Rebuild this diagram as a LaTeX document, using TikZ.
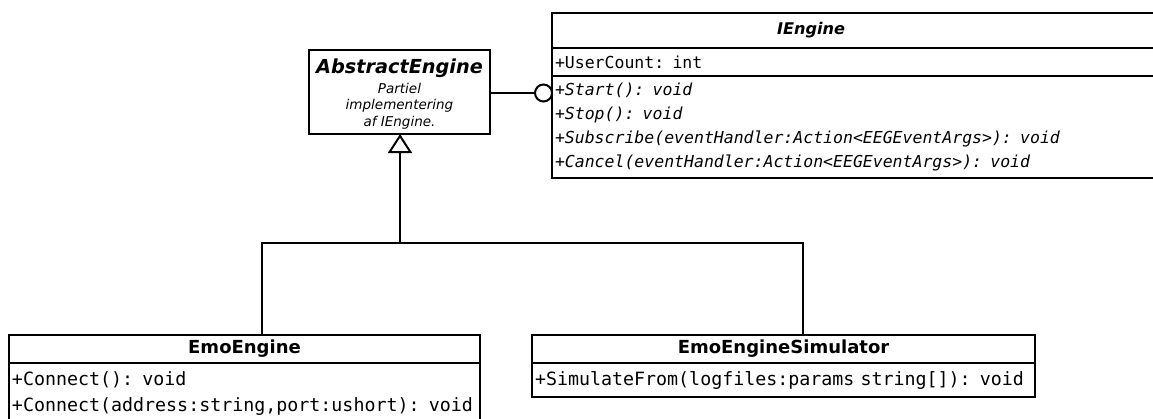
\documentclass[tikz,border=0pt]{standalone}
\usepackage{fontspec}
\setmainfont{DejaVu Sans}
\setmonofont{DejaVu Sans Mono}
\usetikzlibrary{positioning, arrows.meta, calc}

\begin{document}
\begin{tikzpicture}[
    x=1pt, y=-1pt,
    umlbox/.style={rectangle, draw, line width=2pt, outer sep=0pt, inner sep=0pt},
    head/.style={umlbox, anchor=north west, minimum height=28pt, font=\bfseries\fontsize{18}{22}\selectfont},
    members/.style={umlbox, align=left, inner xsep=3pt, inner ysep=2pt, font=\ttfamily\fontsize{18.3}{26}\selectfont},
    link/.style={line width=2pt},
]

    \useasboundingbox (0,0) rectangle (1153,418);
    \clip (0,0) rectangle (1153,418);

    % IEngine interface
    \node[umlbox, anchor=north west, minimum width=620pt, minimum height=35pt] (ie_head) at (552,13) {};
    \node[font=\bfseries\itshape\fontsize{16.1}{20}\selectfont] (ie_title) at ($(ie_head.center)+(-51,0)$) {IEngine};
    \node[members, below=0pt of ie_head, text width=614pt, minimum height=28pt, font=\ttfamily\fontsize{16.5}{24}\selectfont] (ie_attr) {+UserCount: int};
    \node[members, below=0pt of ie_attr, text width=614pt, minimum height=102pt, font=\ttfamily\itshape\fontsize{16.5}{24}\selectfont] (ie_ops) {+Start(): void\\+Stop(): void\\+Subscribe(eventHandler:Action<EEGEventArgs>): void\\+Cancel(eventHandler:Action<EEGEventArgs>): void};

    % AbstractEngine class
    \node[umlbox, anchor=north west, minimum width=181pt, minimum height=84pt, align=center, font=\itshape\fontsize{13.5}{16.5}\selectfont] (abs_box) at (309,50) {\rule{0pt}{18pt}{\bfseries\fontsize{19.3}{22}\selectfont AbstractEngine}\\[3.5pt]Partiel\\implementering\\af IEngine.};

    % EmoEngine class
    \node[head, minimum width=471pt] (emo_head) at (9,335) {EmoEngine};
    \node[members, below=0pt of emo_head, text width=465pt, minimum height=62pt] (emo_ops) {+Connect(): void\\+Connect(address:string,port:ushort): void};

    % EmoEngineSimulator class
    \node[head, minimum width=503pt] (sim_head) at (532,335) {EmoEngineSimulator};
    \node[members, below=0pt of sim_head, text width=497pt, minimum height=34pt] (sim_ops) {+SimulateFrom(logfiles:params string[]): void};

    % AbstractEngine realizes IEngine (lollipop)
    \node[circle, draw, line width=2pt, fill=white, minimum size=17pt, inner sep=0pt] (ie_ball) at (543.5,93) {};
    \draw[link] (abs_box.east |- ie_ball) -- (ie_ball.west);

    % Generalization: both engines -> AbstractEngine
    \coordinate (fork) at (400,243);
    \draw[link, -{Triangle[open, length=19pt, width=24pt]}] (fork) -- (fork |- abs_box.south);
    \draw[link] ([xshift=17.5pt]emo_head.north) |- (fork) -| ([xshift=19.5pt]sim_head.north);

\end{tikzpicture}
\end{document}
